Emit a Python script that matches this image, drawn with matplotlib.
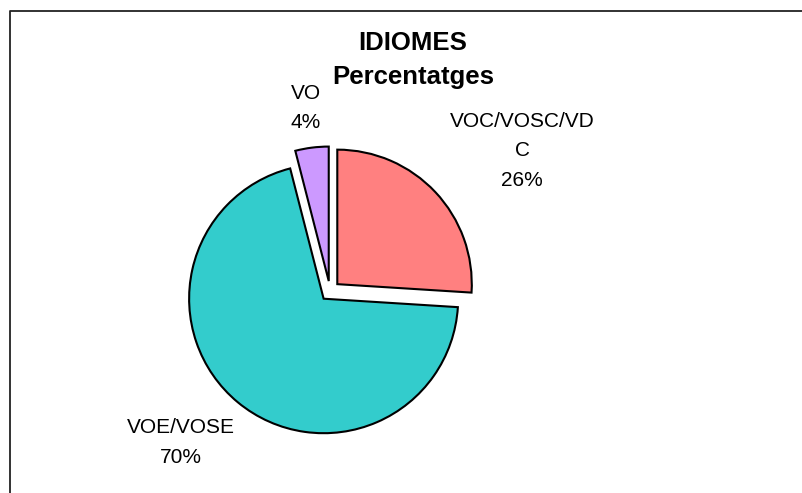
import matplotlib
matplotlib.use("Agg")
import matplotlib.pyplot as plt

# data
labels = ["VOC/VOSC/VD\nC", "VOE/VOSE", "VO"]
shares = [26, 70, 4]
colors = ["#FF8080", "#33CCCC", "#CC99FF"]

plt.rcParams['font.family'] = ['Liberation Sans', 'DejaVu Sans']

fig = plt.figure(figsize=(8.02, 4.93), dpi=100)
ax = fig.add_axes([0, 0, 1, 1])

# pie in pixel coordinates (y up); explode is an absolute offset here
cx, cy, r = 330, 202, 134.5
wedges, texts = ax.pie(shares, colors=colors, startangle=90, counterclock=False,
                       explode=[10, 10, 10], center=(cx, cy), radius=r,
                       wedgeprops=dict(edgecolor="black", linewidth=1.5))

label_pos = [(522, 342), (181, 50.5), (306, 385)]
for lab, val, (x, y) in zip(labels, shares, label_pos):
    ax.text(x, y, "%s\n%d%%" % (lab, val), ha="center", va="center",
            fontsize=15, linespacing=1.7)

ax.text(413, 433, "IDIOMES\nPercentatges", ha="center", va="center",
        fontsize=18.5, fontweight="bold", linespacing=1.5)

# chart border (only left and top edges visible)
ax.plot([9.5, 9.5, 802], [0, 482, 482], color="#222222", linewidth=1.3)

ax.set_xlim(0, 802)
ax.set_ylim(0, 493)
ax.set_aspect("auto")
ax.axis("off")

fig.savefig("out.png", dpi=100)
